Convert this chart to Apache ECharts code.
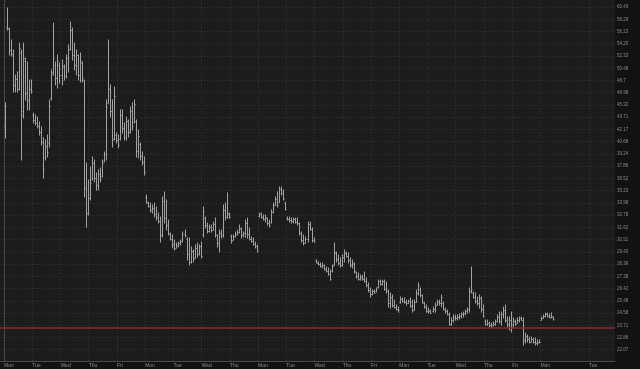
<!DOCTYPE html>
<html><head><meta charset="utf-8">
<script src="https://cdn.jsdelivr.net/npm/echarts@6/dist/echarts.min.js"></script>
<style>html,body{margin:0;padding:0;background:#121212;}#c{width:640px;height:369px;}</style>
</head><body><div id="c"></div>
<script>
// Day labels and the bar index at which each day starts (14 half-hour bars per session)
const dayLabels = ['Mon','Tue','Wed','Thu','Fri','Mon','Tue','Wed','Thu','Mon','Tue','Wed','Thu','Fri','Mon','Tue','Wed','Thu','Fri','Mon','Tue'];
const dayStartIndex = [0,14,28,42,56,70,84,98,112,126,140,154,168,182,196,210,224,238,252,266,290];

// Right-hand price scale labels (log scale)
const yTickLabels = ['22.07','22.88','23.71','24.58','25.48','26.42','27.38','28.39','29.43','30.51','31.62','32.78','33.98','35.23','36.52','37.86','39.24','40.68','42.17','43.71','45.32','46.98','48.7','50.48','52.33','54.25','56.23','58.29','60.43'];

const refLevel = 23.57;
const lastPrice = 24.15;

const opens = [
42.6,57.0,56.6,53.2,52.6,48.0,48.9,47.5,53.0,44.5,51.5,47.0,46.0,47.5,
44.0,43.3,43.0,42.6,41.8,40.6,38.9,40.2,40.5,46.2,50.0,51.0,49.0,51.0,
49.5,50.8,49.3,52.0,53.5,56.5,52.5,51.0,52.5,49.5,51.2,48.7,35.5,33.0,
34.5,36.5,38.2,36.6,35.8,37.0,36.8,38.4,39.2,45.6,47.5,44.5,41.0,41.5,
40.9,41.0,44.0,42.3,41.3,43.2,41.8,44.5,43.1,43.2,39.6,40.4,39.0,38.3,
34.6,34.0,33.7,33.3,33.5,32.9,32.6,32.2,30.9,34.2,32.5,31.8,31.05,30.6,
30.1,29.8,30.0,30.2,30.4,31.0,30.6,29.2,28.6,29.5,28.9,29.8,29.2,29.9,
31.0,32.5,31.8,31.3,31.7,31.4,31.9,30.9,30.2,31.1,30.9,33.3,32.6,32.9,
30.8,30.5,30.8,31.0,31.2,31.5,30.9,31.1,32.0,31.0,30.6,30.4,30.1,29.9,
32.7,32.9,32.6,32.4,32.5,32.0,32.1,33.1,33.8,34.4,34.1,35.4,35.0,34.0,
32.5,32.4,32.3,32.2,32.4,32.1,32.0,31.1,30.5,30.2,30.6,31.9,31.5,30.5,
28.7,28.5,28.4,28.2,28.3,28.0,27.8,27.6,27.8,28.3,29.3,28.8,28.5,28.3,
29.0,29.3,29.1,28.7,28.3,28.4,27.7,27.4,27.2,27.3,27.2,27.0,26.7,26.3,
26.0,26.2,26.2,26.5,27.0,26.8,27.0,26.4,26.2,25.3,25.8,25.2,25.0,24.9,
25.4,25.6,25.5,25.4,25.3,25.5,25.1,24.8,25.4,26.1,26.4,25.9,25.3,25.0,
24.7,24.7,24.7,24.9,25.2,25.4,25.3,25.3,24.9,24.7,24.5,23.8,24.1,24.3,
24.2,24.3,24.4,24.5,24.6,24.7,24.9,26.2,26.1,25.8,25.5,25.3,25.7,24.9,
24.0,23.8,23.9,23.7,23.7,23.8,24.0,24.3,24.0,24.5,24.8,24.1,23.8,24.1,
23.7,24.0,23.9,24.1,24.2,24.1,22.7,23.0,22.8,22.6,22.8,22.6,22.5,22.6,
24.1,24.2,24.4,24.5,24.4,24.3,24.3
];
const highs = [
45.59,60.26,56.82,54.85,53.27,49.49,49.93,54.36,53.27,54.36,52.03,51.42,48.76,48.76,
44.26,44.00,43.74,43.11,42.48,41.13,40.89,41.49,45.99,50.22,57.66,51.42,52.49,51.27,
51.72,50.96,52.49,54.05,57.83,56.82,54.36,53.27,52.49,52.80,51.42,48.76,38.21,36.35,
37.76,38.89,38.55,37.11,37.44,37.65,38.55,39.46,45.99,54.85,48.06,45.99,47.78,41.73,
41.49,44.66,44.66,42.98,43.74,43.36,45.06,45.59,45.99,43.36,42.10,40.53,39.46,38.89,
34.78,34.06,33.96,33.77,33.96,33.57,32.98,32.60,34.58,35.09,34.27,32.31,31.10,30.92,
30.47,30.20,30.29,30.47,31.19,31.37,30.65,30.65,29.85,29.59,30.03,30.20,30.03,30.29,
33.57,32.60,32.03,31.84,31.84,32.12,32.50,30.92,31.37,31.37,33.77,33.96,34.99,32.98,
30.92,30.92,31.19,31.37,31.84,31.56,31.19,32.31,32.50,31.56,30.74,30.65,30.29,30.03,
32.98,32.98,32.79,32.79,32.50,32.31,33.28,33.96,34.58,35.09,35.61,35.61,35.29,34.06,
32.60,32.60,32.50,32.50,32.50,32.50,32.03,31.19,30.92,30.74,32.12,32.12,31.56,30.65,
28.73,28.56,28.48,28.48,28.31,28.14,28.06,27.89,28.31,30.20,29.41,29.16,28.90,29.16,
29.59,29.41,29.33,28.90,28.73,28.48,27.73,27.65,27.48,27.48,27.73,27.24,26.85,26.46,
26.30,26.30,26.46,27.08,27.08,27.08,27.08,26.93,26.30,26.07,25.92,25.53,25.17,25.02,
25.77,25.69,25.69,25.53,25.53,25.69,25.53,25.53,26.30,26.85,26.46,25.92,25.38,25.17,
24.95,24.80,25.02,25.31,25.53,25.53,25.92,25.38,24.95,24.80,24.58,24.23,24.44,24.44,
24.44,24.51,24.58,24.65,24.80,24.95,26.46,28.14,26.15,26.07,25.77,25.92,25.77,25.17,
24.08,24.08,23.94,23.87,23.94,24.08,24.44,24.65,24.65,25.02,25.17,24.30,24.30,24.65,
24.23,24.08,24.23,24.30,24.30,24.23,23.18,23.04,22.91,22.91,22.84,22.84,22.71,22.71,
24.30,24.44,24.58,24.58,24.51,24.58,24.30
];
const lows = [
41.13,56.48,52.49,52.33,47.08,47.08,47.08,47.36,38.55,43.61,45.99,44.66,44.66,46.94,
42.98,42.73,42.35,41.49,40.29,36.56,38.55,38.89,40.05,45.99,49.49,48.06,47.64,48.34,
48.06,48.76,49.05,49.93,53.27,51.72,50.22,49.49,48.76,48.48,48.48,34.58,31.65,32.79,
34.27,36.35,36.14,35.29,35.29,36.14,36.67,38.33,38.55,45.59,43.74,40.05,40.89,40.53,
39.94,40.89,41.73,40.89,40.89,41.25,41.73,42.10,42.98,38.89,38.78,38.55,37.99,36.89,
33.96,33.57,33.08,32.98,32.60,32.31,32.03,30.29,30.74,32.03,31.37,30.92,30.47,29.77,
29.59,29.77,29.85,30.03,30.29,30.74,28.73,28.31,28.48,28.56,28.90,28.99,29.16,28.90,
30.74,31.56,31.10,31.19,31.19,31.37,30.74,29.85,29.41,30.65,30.74,32.31,32.50,32.50,
30.20,30.47,30.74,30.92,31.10,30.65,30.74,30.74,30.65,30.47,30.29,30.03,29.77,29.41,
32.60,32.50,32.31,32.12,31.84,31.65,32.03,32.98,33.77,33.57,34.06,34.78,34.27,33.28,
32.31,32.12,32.03,32.03,32.03,31.84,30.92,30.29,30.03,30.20,30.29,31.37,30.29,30.29,
28.48,28.31,28.14,28.06,27.89,27.73,27.48,27.08,27.73,28.31,28.56,28.31,28.14,28.23,
28.56,28.99,28.48,28.14,28.06,27.65,27.24,27.08,27.08,27.08,26.93,26.54,26.15,25.77,
25.92,26.07,26.15,26.46,26.69,26.69,26.30,26.07,25.02,24.95,25.02,24.95,24.80,24.65,
25.31,25.38,25.31,25.17,25.31,25.02,24.65,24.80,25.38,25.92,25.77,25.31,24.95,24.65,
24.58,24.58,24.65,24.65,25.17,25.17,25.02,24.80,24.58,24.44,23.72,23.72,23.94,24.08,
24.08,24.15,24.23,24.30,24.44,24.58,24.65,26.07,25.69,25.31,25.17,24.95,24.65,24.30,
23.72,23.72,23.59,23.59,23.66,23.72,23.94,23.87,23.72,24.23,23.94,23.59,23.38,23.25,
23.59,23.72,23.87,23.94,24.08,22.38,22.51,22.58,22.51,22.58,22.51,22.38,22.38,22.51,
24.08,24.23,24.30,24.30,24.23,24.23,24.08
];
const closes = [
45.2,56.82,53.2,52.6,48.0,48.9,47.5,53.6,44.0,52.0,47.0,46.0,47.5,47.2,
43.3,43.0,42.6,41.8,40.6,37.5,40.2,39.5,45.2,49.6,52.0,49.0,51.5,49.5,
50.8,49.3,52.0,53.5,56.5,52.5,51.0,52.5,49.5,51.5,49.0,35.5,33.0,34.5,
36.0,38.2,36.6,35.8,37.0,36.5,38.2,39.2,45.0,47.5,44.5,41.0,46.5,40.9,
40.3,44.0,42.3,41.3,43.2,41.8,44.5,42.6,45.5,39.6,41.4,39.0,38.3,37.2,
34.1,33.7,33.3,33.5,32.9,32.6,32.2,30.9,34.2,32.5,31.8,31.1,30.6,30.1,
29.8,30.0,30.2,30.4,31.0,30.9,29.2,28.6,29.5,28.8,29.8,29.2,29.9,29.1,
33.2,31.8,31.3,31.7,31.4,31.9,31.0,30.2,31.1,30.9,33.3,32.6,33.0,32.6,
30.4,30.8,31.0,31.2,31.6,30.9,31.1,32.0,31.0,30.6,30.4,30.1,29.9,29.5,
32.9,32.6,32.4,32.6,32.0,31.8,33.1,33.8,34.4,33.8,35.4,35.0,34.4,33.4,
32.4,32.3,32.2,32.4,32.1,32.0,31.1,30.5,30.2,30.6,31.9,31.5,30.5,30.4,
28.6,28.4,28.2,28.3,28.0,27.8,27.6,27.2,28.2,29.4,28.8,28.5,28.3,29.0,
29.3,29.1,28.7,28.3,28.5,27.8,27.4,27.2,27.3,27.2,27.0,26.7,26.3,26.0,
26.2,26.1,26.4,27.0,26.8,27.0,26.4,26.2,25.3,25.8,25.2,25.0,24.9,24.8,
25.6,25.5,25.4,25.3,25.5,25.1,24.8,25.4,26.1,26.7,25.9,25.4,25.0,24.7,
24.8,24.6,24.9,25.2,25.4,25.3,25.8,24.9,24.7,24.5,23.8,24.1,24.3,24.2,
24.3,24.4,24.5,24.6,24.7,24.9,26.2,26.4,25.8,25.5,25.3,25.7,24.9,24.4,
23.8,23.9,23.7,23.6,23.8,24.0,24.3,24.0,24.5,24.8,24.1,23.8,24.1,23.6,
24.0,23.8,24.1,24.2,24.1,22.7,23.0,22.8,22.6,22.8,22.6,22.5,22.6,22.6,
24.2,24.4,24.5,24.4,24.3,24.4,24.15
];

// ---- build chart (price axis is logarithmic: values are plotted as ln(price)) ----
const ln = Math.log;
const bars = opens.map((o, i) => [i + 0.5, ln(o), ln(highs[i]), ln(lows[i]), ln(closes[i])]);
const yTickValues = yTickLabels.map(s => ln(parseFloat(s)));

const chart = echarts.init(document.getElementById('c'), null, {renderer: 'canvas'});
chart.setOption({
  backgroundColor: '#121212',
  animation: false,
  grid: {left: 0, right: 25, top: 0, bottom: 8, show: true, backgroundColor: '#1c1c1c', borderWidth: 0},
  xAxis: {
    type: 'value', min: -2, max: 303,
    axisLine: {show: true, onZero: false, lineStyle: {color: '#4a4a4a', width: 1}},
    axisTick: {show: false, customValues: dayStartIndex},
    axisLabel: {
      customValues: dayStartIndex, align: 'left', margin: 2,
      color: '#8c8c8c', fontSize: 5, fontFamily: 'Liberation Sans',
      formatter: v => dayLabels[dayStartIndex.indexOf(v)]
    },
    splitLine: {show: true, lineStyle: {color: '#333333', type: [1, 2], width: 1}}
  },
  yAxis: {
    type: 'value', position: 'right', scale: true,
    min: ln(21.35), max: ln(61.70),
    axisLine: {show: true, lineStyle: {color: '#4a4a4a', width: 1}},
    axisTick: {show: false, customValues: yTickValues},
    axisLabel: {
      customValues: yTickValues, margin: 2,
      color: '#8c8c8c', fontSize: 4.5, fontFamily: 'Liberation Sans',
      formatter: v => {
        let best = 0;
        for (let k = 1; k < yTickValues.length; k++) {
          if (Math.abs(yTickValues[k] - v) < Math.abs(yTickValues[best] - v)) best = k;
        }
        return yTickLabels[best];
      }
    },
    splitLine: {show: true, lineStyle: {color: '#333333', type: [1, 2], width: 1}}
  },
  series: [{
    type: 'custom',
    data: bars,
    encode: {x: 0, y: [1, 2, 3, 4]},
    clip: true,
    renderItem: (params, api) => {
      const x = api.value(0);
      const pO = api.coord([x, api.value(1)]);
      const pH = api.coord([x, api.value(2)]);
      const pL = api.coord([x, api.value(3)]);
      const pC = api.coord([x, api.value(4)]);
      const cx = Math.round(pH[0]) + 0.5;
      const st = {stroke: '#a2a2a2', lineWidth: 1};
      return {
        type: 'group',
        children: [
          {type: 'line', shape: {x1: cx, y1: pH[1] - 0.5, x2: cx, y2: pL[1] + 0.5}, style: st},
          {type: 'line', shape: {x1: cx - 1, y1: Math.round(pO[1]) + 0.5, x2: cx, y2: Math.round(pO[1]) + 0.5}, style: st},
          {type: 'line', shape: {x1: cx, y1: Math.round(pC[1]) + 0.5, x2: cx + 1, y2: Math.round(pC[1]) + 0.5}, style: st}
        ]
      };
    },
    markLine: {
      silent: true, symbol: 'none', animation: false,
      data: [
        {yAxis: ln(refLevel), lineStyle: {color: '#8f2b2b', width: 1.5, type: 'solid'}, label: {show: false}},
        {yAxis: ln(lastPrice), lineStyle: {color: '#000', width: 0, opacity: 0},
         label: {show: true, position: 'end', distance: 2, formatter: String(lastPrice),
                 backgroundColor: '#cfcfcf', color: '#111', fontSize: 5, fontFamily: 'Liberation Sans',
                 padding: [1, 1, 0, 1]}}
      ]
    }
  }]
});
</script>
</body></html>
